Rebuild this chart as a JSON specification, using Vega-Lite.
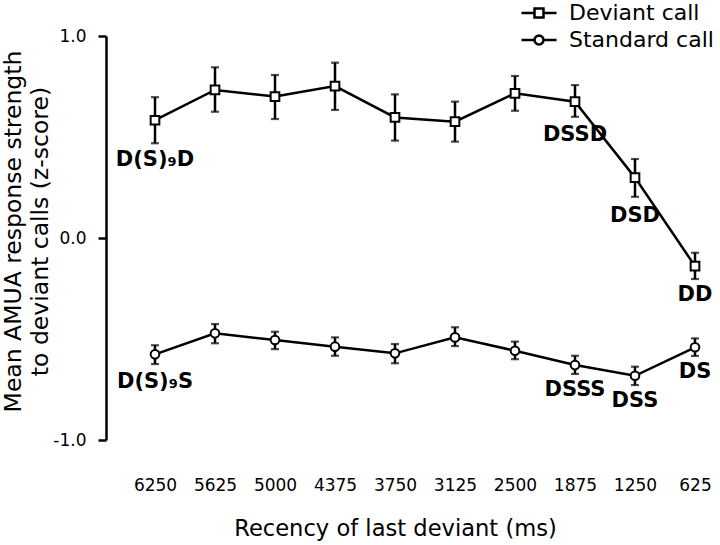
{
  "$schema": "https://vega.github.io/schema/vega-lite/v6.json",
  "width": 590,
  "height": 404,
  "autosize": {"type": "none"},
  "padding": {"left": 130, "top": 36, "right": 0, "bottom": 105},
  "config": {"view": {"stroke": null}, "font": "DejaVu Sans"},
  "data": {
    "values": [
      {"series": "Deviant call", "recency": "6250", "mean": 0.583, "lo": 0.469, "hi": 0.697},
      {"series": "Deviant call", "recency": "5625", "mean": 0.733, "lo": 0.625, "hi": 0.845},
      {"series": "Deviant call", "recency": "5000", "mean": 0.700, "lo": 0.589, "hi": 0.807},
      {"series": "Deviant call", "recency": "4375", "mean": 0.752, "lo": 0.634, "hi": 0.868},
      {"series": "Deviant call", "recency": "3750", "mean": 0.597, "lo": 0.482, "hi": 0.711},
      {"series": "Deviant call", "recency": "3125", "mean": 0.576, "lo": 0.477, "hi": 0.675},
      {"series": "Deviant call", "recency": "2500", "mean": 0.716, "lo": 0.630, "hi": 0.802},
      {"series": "Deviant call", "recency": "1875", "mean": 0.675, "lo": 0.600, "hi": 0.757},
      {"series": "Deviant call", "recency": "1250", "mean": 0.299, "lo": 0.204, "hi": 0.391},
      {"series": "Deviant call", "recency": "625", "mean": -0.139, "lo": -0.203, "hi": -0.073},
      {"series": "Standard call", "recency": "6250", "mean": -0.576, "lo": -0.624, "hi": -0.531},
      {"series": "Standard call", "recency": "5625", "mean": -0.472, "lo": -0.521, "hi": -0.426},
      {"series": "Standard call", "recency": "5000", "mean": -0.505, "lo": -0.550, "hi": -0.464},
      {"series": "Standard call", "recency": "4375", "mean": -0.538, "lo": -0.583, "hi": -0.492},
      {"series": "Standard call", "recency": "3750", "mean": -0.571, "lo": -0.620, "hi": -0.525},
      {"series": "Standard call", "recency": "3125", "mean": -0.492, "lo": -0.535, "hi": -0.442},
      {"series": "Standard call", "recency": "2500", "mean": -0.558, "lo": -0.600, "hi": -0.513},
      {"series": "Standard call", "recency": "1875", "mean": -0.629, "lo": -0.673, "hi": -0.583},
      {"series": "Standard call", "recency": "1250", "mean": -0.682, "lo": -0.728, "hi": -0.637},
      {"series": "Standard call", "recency": "625", "mean": -0.541, "lo": -0.584, "hi": -0.497}
    ]
  },
  "encoding": {
    "x": {
      "field": "recency",
      "type": "ordinal",
      "scale": {"type": "point", "padding": 0.4167, "domain": ["6250", "5625", "5000", "4375", "3750", "3125", "2500", "1875", "1250", "625"]},
      "axis": {
        "title": "Recency of last deviant (ms)",
        "titleFontSize": 22.6,
        "titleFontWeight": "normal",
        "titleColor": "black",
        "titleX": 265,
        "titleY": 88,
        "titleBaseline": "middle",
        "labelFontSize": 17,
        "labelColor": "black",
        "labelAngle": 0,
        "labelPadding": 37,
        "ticks": false,
        "domain": false,
        "grid": false
      }
    }
  },
  "resolve": {"scale": {"shape": "independent"}, "legend": {"shape": "independent"}},
  "layer": [
    {
      "mark": {"type": "line", "color": "black", "strokeWidth": 2.5},
      "encoding": {
        "y": {
          "field": "mean",
          "type": "quantitative",
          "scale": {"domain": [-1, 1], "nice": false, "zero": false},
          "axis": {
            "values": [-1, 0, 1],
            "labelExpr": "replace(format(datum.value, '.1f'), '\u2212', '-')",
            "labelFontSize": 17,
            "labelColor": "black",
            "labelPadding": 12,
            "tickSize": 8,
            "tickWidth": 2.5,
            "tickColor": "black",
            "domainWidth": 2.5,
            "domainColor": "black",
            "offset": 24,
            "grid": false,
            "title": ["Mean AMUA response strength", "to deviant calls (z-score)"],
            "titleFontSize": 23.5,
            "titleFontWeight": "normal",
            "titleColor": "black",
            "titleLineHeight": 27,
            "titleAngle": -90,
            "titleAlign": "center",
            "titleBaseline": "alphabetic",
            "titleX": -86,
            "titleY": 195
          }
        },
        "detail": {"field": "series"}
      }
    },
    {
      "mark": {"type": "rule", "color": "black", "strokeWidth": 2.5},
      "encoding": {
        "y": {"field": "lo", "type": "quantitative"},
        "y2": {"field": "hi"}
      }
    },
    {
      "mark": {"type": "tick", "color": "black", "size": 8, "thickness": 2.2},
      "encoding": {"y": {"field": "lo", "type": "quantitative"}}
    },
    {
      "mark": {"type": "tick", "color": "black", "size": 8, "thickness": 2.2},
      "encoding": {"y": {"field": "hi", "type": "quantitative"}}
    },
    {
      "mark": {"type": "point", "filled": true, "fill": "white", "stroke": "black", "strokeWidth": 2, "size": 75, "opacity": 1},
      "encoding": {
        "y": {"field": "mean", "type": "quantitative"},
        "shape": {
          "field": "series",
          "type": "nominal",
          "scale": {"domain": ["Deviant call", "Standard call"], "range": ["square", "circle"]},
          "legend": null
        }
      }
    },
    {
      "data": {"values": []},
      "mark": {"type": "point", "filled": false, "color": "black", "strokeWidth": 2.5, "opacity": 1},
      "encoding": {
        "y": {"field": "mean", "type": "quantitative"},
        "shape": {
          "field": "series",
          "type": "nominal",
          "scale": {
            "domain": ["Deviant call", "Standard call"],
            "range": [
              "M-1,0L-0.257,0M0.257,0L1,0M-0.257,-0.257L0.257,-0.257L0.257,0.257L-0.257,0.257Z",
              "M-1,0L-0.257,0M0.257,0L1,0M0.257,0L0.2375,0.0984L0.1817,0.1817L0.0984,0.2375L0,0.257L-0.0984,0.2375L-0.1817,0.1817L-0.2375,0.0984L-0.257,0L-0.2375,-0.0984L-0.1817,-0.1817L-0.0984,-0.2375L0,-0.257L0.0984,-0.2375L0.1817,-0.1817L0.2375,-0.0984Z"
            ]
          },
          "legend": {
            "title": null,
            "orient": "none",
            "legendX": 390,
            "legendY": -36.5,
            "padding": 0,
            "rowPadding": 0,
            "clipHeight": 27,
            "symbolSize": 1225,
            "symbolStrokeColor": "black",
            "symbolStrokeWidth": 2.5,
            "symbolOpacity": 1,
            "labelFontSize": 22,
            "labelColor": "black",
            "labelOffset": 11,
            "labelFont": "DejaVu Sans"
          }
        }
      }
    },
    {
      "data": {
        "values": [
          {"recency": "6250", "label_y": 0.385, "text": "D(S)\u2089D"},
          {"recency": "1875", "label_y": 0.508, "text": "DSSD"},
          {"recency": "1250", "label_y": 0.110, "text": "DSD"},
          {"recency": "625", "label_y": -0.281, "text": "DD"},
          {"recency": "6250", "label_y": -0.712, "text": "D(S)\u2089S"},
          {"recency": "1875", "label_y": -0.751, "text": "DSSS"},
          {"recency": "1250", "label_y": -0.808, "text": "DSS"},
          {"recency": "625", "label_y": -0.662, "text": "DS"}
        ]
      },
      "mark": {"type": "text", "fontWeight": "bold", "fontSize": 21, "align": "center", "baseline": "middle", "color": "black", "font": "DejaVu Sans"},
      "encoding": {
        "y": {"field": "label_y", "type": "quantitative"},
        "text": {"field": "text"}
      }
    }
  ]
}
